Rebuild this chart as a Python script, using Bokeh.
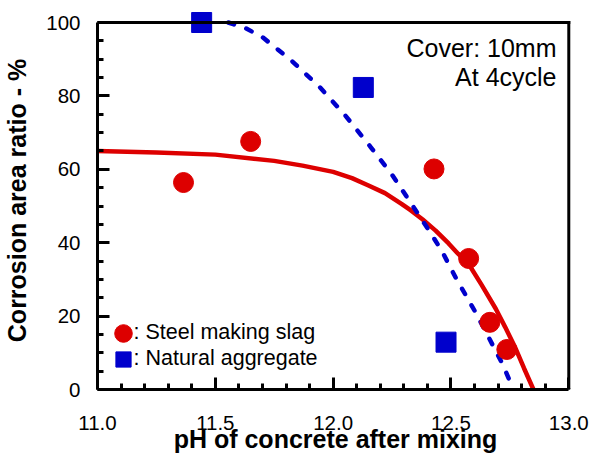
from bokeh.plotting import figure
from bokeh.models import (Range1d, FixedTicker, PrintfTickFormatter, Legend, LegendItem,
                          Label, BoxAnnotation)
from bokeh.embed import file_html
from bokeh.resources import INLINE

# ---- data ----
slag_ph = [11.365, 11.65, 12.428, 12.575, 12.665, 12.737]
slag_pct = [56.4, 67.6, 60.1, 35.7, 18.3, 10.9]

natural_ph = [11.442, 12.128, 12.479]
natural_pct = [100.0, 82.3, 12.9]

# fitted curves
slag_fit_ph = [11.0, 11.25, 11.5, 11.75, 11.87, 12.0, 12.08, 12.15, 12.22, 12.29,
               12.33, 12.38, 12.435, 12.49, 12.53, 12.575, 12.63, 12.69, 12.73,
               12.77, 12.81, 12.85]
slag_fit_pct = [65.0, 64.6, 64.0, 62.3, 61.0, 59.3, 57.6, 55.6, 53.5, 50.6,
                48.8, 46.3, 43.3, 39.8, 37.0, 34.2, 28.5, 22.0, 17.0,
                11.8, 5.8, 0.0]

natural_fit_ph = [11.555, 11.63, 11.70, 11.82, 11.94, 12.05, 12.16, 12.25, 12.33,
                  12.41, 12.46, 12.52, 12.60, 12.66, 12.72, 12.765]
natural_fit_pct = [100.0, 98.4, 96.0, 89.8, 82.6, 74.8, 66.0, 58.5, 50.8,
                   43.0, 37.9, 30.5, 21.5, 14.2, 6.8, 0.0]

x_major = [11.0, 11.5, 12.0, 12.5, 13.0]
x_minor = [11.1, 11.2, 11.3, 11.4, 11.6, 11.7, 11.8, 11.9, 12.1, 12.2, 12.3, 12.4,
           12.6, 12.7, 12.8, 12.9]
y_major = [0, 20, 40, 60, 80, 100]
y_minor = [5, 10, 15, 25, 30, 35, 45, 50, 55, 65, 70, 75, 85, 90, 95]

RED = "#DD0000"
BLUE = "#0000CC"
FONT = "Liberation Sans"

# plot geometry (pixels)
PX_X = 235.5          # pixels per pH unit
PX_Y = 3.67           # pixels per percent

p = figure(frame_width=476, frame_height=378,
           output_backend="svg", toolbar_location=None,
           x_range=Range1d(11.0, 13.02), y_range=Range1d(0, 103.0),
           min_border_left=96, min_border_right=17, min_border_top=11,
           min_border_bottom=70)
p.outline_line_color = None
p.xgrid.visible = False
p.ygrid.visible = False
p.background_fill_color = "white"
p.border_fill_color = "white"

for ax, ticks, minor, bounds in ((p.xaxis[0], x_major, x_minor, (11.0, 13.0)),
                                 (p.yaxis[0], y_major, y_minor, (0, 100))):
    ax.ticker = FixedTicker(ticks=ticks, minor_ticks=minor)
    ax.bounds = bounds
    ax.axis_line_width = 3
    ax.axis_line_color = "black"
    ax.major_tick_in = 12
    ax.major_tick_out = 0
    ax.minor_tick_in = 6
    ax.minor_tick_out = 0
    ax.major_tick_line_color = "black"
    ax.minor_tick_line_color = "black"
    ax.major_tick_line_width = 3
    ax.minor_tick_line_width = 3
    ax.major_label_text_font = FONT
    ax.major_label_text_font_size = "20.5px"
    ax.major_label_text_color = "black"

p.xaxis[0].formatter = PrintfTickFormatter(format="%.1f")
p.xaxis[0].major_label_standoff = 26
p.yaxis[0].major_label_standoff = 17

p.yaxis[0].axis_label = "Corrosion area ratio - %"
p.xaxis[0].axis_label = "pH of concrete after mixing"
for ax in (p.xaxis[0], p.yaxis[0]):
    ax.axis_label_text_font = FONT
    ax.axis_label_text_font_size = "25px"
    ax.axis_label_text_font_style = "bold"
    ax.axis_label_text_color = "black"
p.yaxis[0].axis_label_standoff = 12
p.xaxis[0].axis_label_standoff = -8

# fitted curves
p.line(slag_fit_ph, slag_fit_pct, line_color=RED, line_width=4.5)
p.line(natural_fit_ph, natural_fit_pct, line_color=BLUE, line_width=4.5,
       line_dash="6 13", line_cap="round")

# points
r_slag = p.scatter(slag_ph, slag_pct, marker="circle", size=20,
                   fill_color=RED, line_color=RED)
r_nat = p.scatter(natural_ph, natural_pct, marker="square", size=20,
                  fill_color=BLUE, line_color=BLUE)

# frame border (filled strips, 3 px thick) around 11..13 x 0..100
hx = 1.5 / PX_X
hy = 1.5 / PX_Y
fb = dict(fill_color="black", fill_alpha=1.0, line_color=None)
p.add_layout(BoxAnnotation(left=11.0 - hx, right=13.0 + hx, bottom=100 - hy, top=100 + hy, **fb))
p.add_layout(BoxAnnotation(left=13.0 - hx, right=13.0 + hx, bottom=0, top=100 + hy, **fb))
p.add_layout(BoxAnnotation(left=11.0, right=11.0 + hx, bottom=0, top=100 + hy, **fb))
p.add_layout(BoxAnnotation(left=11.0, right=13.0 + hx, bottom=0, top=hy, **fb))

# annotation
txt = dict(x_units="screen", y_units="screen", text_baseline="alphabetic",
           text_font=FONT, text_color="black")
p.add_layout(Label(x=459, y=342, text="Cover: 10mm", text_align="right",
                   text_font_size="25px", **txt))
p.add_layout(Label(x=459, y=313, text="At 4cycle", text_align="right",
                   text_font_size="25px", **txt))

# legend: markers via Legend, texts via Labels
def make_legend(renderer, loc, glyph):
    return Legend(items=[LegendItem(label=" ", renderers=[renderer])],
                  location=loc, glyph_width=glyph, glyph_height=glyph,
                  padding=0, margin=0, spacing=0, label_standoff=0,
                  border_line_color=None, background_fill_alpha=0,
                  label_text_font=FONT, label_text_font_size="10px")

p.add_layout(make_legend(r_slag, (4, 34), 44))
p.add_layout(make_legend(r_nat, (7, 11), 38))
p.add_layout(Label(x=36, y=58, text=": Steel making slag", text_align="left",
                   text_font_size="21.5px", **txt))
p.add_layout(Label(x=36, y=32, text=": Natural aggregate", text_align="left",
                   text_font_size="21.5px", **txt))

open("out.html", "w").write(file_html(p, INLINE))
